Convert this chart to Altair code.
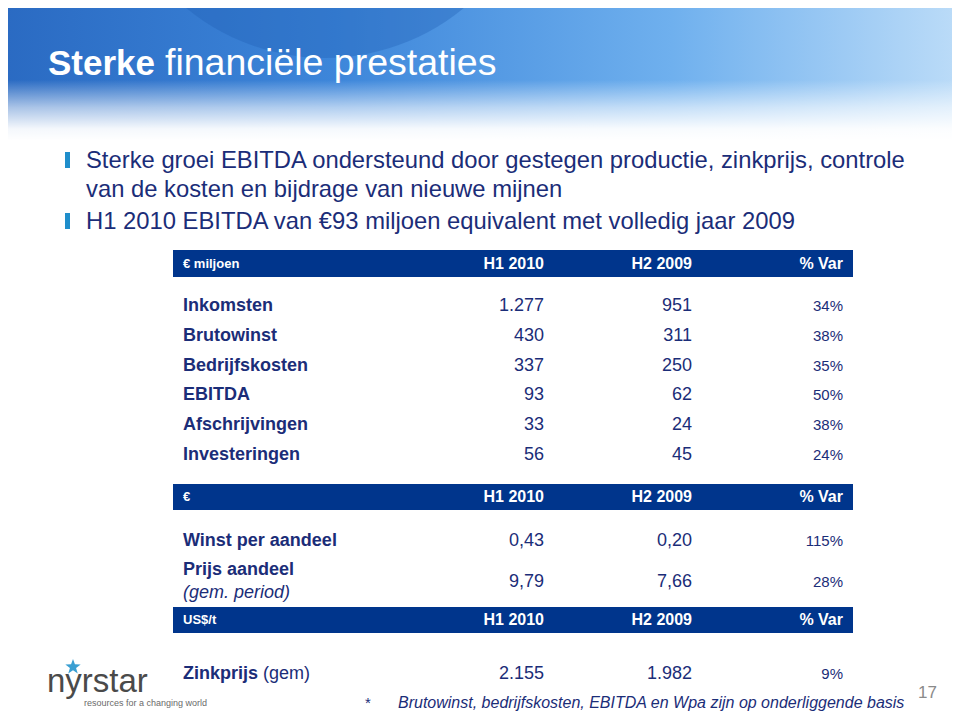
import altair as alt
import pandas as pd

FONT = "Liberation Sans"
NAVY = "#1b2d78"
BAR = "#00358c"

# ---------------- data ----------------
title_bold = "Sterke"
title_rest = "financiële prestaties"
bullets = [
    "Sterke groei EBITDA ondersteund door gestegen productie, zinkprijs, controle",
    "van de kosten en bijdrage van nieuwe mijnen",
    "H1 2010 EBITDA van €93 miljoen equivalent met volledig jaar 2009",
]
header_cols = ["H1 2010", "H2 2009", "% Var"]
units = ["€ miljoen", "€", "US$/t"]

labels_1 = ["Inkomsten", "Brutowinst", "Bedrijfskosten", "EBITDA", "Afschrijvingen", "Investeringen"]
h1_1 = ["1.277", "430", "337", "93", "33", "56"]
h2_1 = ["951", "311", "250", "62", "24", "45"]
var_1 = ["34%", "38%", "35%", "50%", "38%", "24%"]

labels_2 = ["Winst per aandeel", "Prijs aandeel"]
sub_2 = ["", "(gem. period)"]
h1_2 = ["0,43", "9,79"]
h2_2 = ["0,20", "7,66"]
var_2 = ["115%", "28%"]

label_3 = "Zinkprijs"
label_3_rest = "(gem)"
h1_3 = ["2.155"]
h2_3 = ["1.982"]
var_3 = ["9%"]

footnote = "Brutowinst, bedrijfskosten, EBITDA en Wpa zijn op onderliggende basis"
page_no = "17"
logo = "nyrstar"
logo_tag = "resources for a changing world"

# ---------------- layout ----------------
W, H = 944, 704
XS = alt.Scale(domain=[8, 8 + W], nice=False, zero=False)
YS = alt.Scale(domain=[8, 8 + H], nice=False, zero=False, reverse=True)
COLX = [544, 692, 843]
LX = 183


def enc_xy(ch):
    return ch.encode(
        x=alt.X("x:Q", scale=XS, axis=None),
        y=alt.Y("y:Q", scale=YS, axis=None),
    )


def text_layer(rows, **kw):
    df = pd.DataFrame(rows, columns=["x", "y", "t"])
    base = dict(font=FONT, baseline="middle")
    base.update(kw)
    return enc_xy(alt.Chart(df).mark_text(**base)).encode(text="t:N")


def rect_layer(rows, **kw):
    df = pd.DataFrame(rows, columns=["x", "x2", "y", "y2"])
    return alt.Chart(df).mark_rect(**kw).encode(
        x=alt.X("x:Q", scale=XS, axis=None), x2="x2",
        y=alt.Y("y:Q", scale=YS, axis=None), y2="y2",
    )


layers = []

# banner background
layers.append(rect_layer([(0, 960, 0, 140)], color=alt.Gradient(
    gradient="linear", x1=0, x2=1, y1=0, y2=0,
    stops=[alt.GradientStop(color="#2a6ac2", offset=0),
           alt.GradientStop(color="#3d86da", offset=0.35),
           alt.GradientStop(color="#6fb0ee", offset=0.7),
           alt.GradientStop(color="#bcdcf8", offset=1)])))
# darker circle in banner
circ = pd.DataFrame({"x": [325], "y": [-160]})
layers.append(enc_xy(alt.Chart(circ).mark_point(
    filled=True, shape="circle", size=190000, color="#1f5fb5", opacity=0.35)))
# fade to white
layers.append(rect_layer([(0, 960, 80, 141)], color=alt.Gradient(
    gradient="linear", x1=0, x2=0, y1=0, y2=1,
    stops=[alt.GradientStop(color="rgba(255,255,255,0)", offset=0),
           alt.GradientStop(color="rgba(255,255,255,0.6)", offset=0.45),
           alt.GradientStop(color="rgba(255,255,255,0.95)", offset=0.8),
           alt.GradientStop(color="#ffffff", offset=1)])))

# title
layers.append(text_layer([(48, 75, title_bold)], baseline="alphabetic", fontSize=35,
                         fontWeight="bold", color="white", align="left"))
layers.append(text_layer([(165, 75, title_rest)], baseline="alphabetic", fontSize=37.5,
                         color="white", align="left"))

# bullets
layers.append(rect_layer([(65, 70, 152, 168), (65, 70, 213, 229)], color="#1f8ecb"))
bl_y = [161, 190, 222]
layers.append(text_layer([(86, y, t) for y, t in zip(bl_y, bullets)], fontSize=23.8,
                         color=NAVY, align="left"))

# header bars
bars = [(250, 277), (484, 510), (607, 633)]
layers.append(rect_layer([(173, 853, a, b) for a, b in bars], color=BAR))
hdr_rows = []
for (a, b), u in zip(bars, units):
    cy = (a + b) / 2
    layers.append(text_layer([(LX, cy, u)], fontSize=13, fontWeight="bold",
                             color="white", align="left"))
    hdr_rows += [(cx, cy, h) for cx, h in zip(COLX, header_cols)]
layers.append(text_layer(hdr_rows, fontSize=16, fontWeight="bold", color="white", align="right"))

# table 1
ys1 = [306 + i * 29.8 for i in range(len(labels_1))]
layers.append(text_layer([(LX, y, t) for y, t in zip(ys1, labels_1)], fontSize=18,
                         fontWeight="bold", color=NAVY, align="left"))
vals = [(COLX[0], y, t) for y, t in zip(ys1, h1_1)] + [(COLX[1], y, t) for y, t in zip(ys1, h2_1)]
layers.append(text_layer(vals, fontSize=18, color=NAVY, align="right"))
layers.append(text_layer([(COLX[2], y, t) for y, t in zip(ys1, var_1)], fontSize=15,
                         color=NAVY, align="right"))

# table 2
lab_y2 = [541, 570]
val_y2 = [541, 582]
layers.append(text_layer([(LX, y, t) for y, t in zip(lab_y2, labels_2)], fontSize=18,
                         fontWeight="bold", color=NAVY, align="left"))
layers.append(text_layer([(LX, 593, s) for s in sub_2 if s], fontSize=18,
                         fontStyle="italic", color=NAVY, align="left"))
vals2 = [(COLX[0], y, t) for y, t in zip(val_y2, h1_2)] + [(COLX[1], y, t) for y, t in zip(val_y2, h2_2)]
layers.append(text_layer(vals2, fontSize=18, color=NAVY, align="right"))
layers.append(text_layer([(COLX[2], y, t) for y, t in zip(val_y2, var_2)], fontSize=15,
                         color=NAVY, align="right"))

# table 3
layers.append(text_layer([(LX, 674, label_3)], fontSize=18, fontWeight="bold",
                         color=NAVY, align="left"))
layers.append(text_layer([(263, 674, label_3_rest)], fontSize=18, color=NAVY, align="left"))
vals3 = [(COLX[0], 674, h1_3[0]), (COLX[1], 674, h2_3[0])]
layers.append(text_layer(vals3, fontSize=18, color=NAVY, align="right"))
layers.append(text_layer([(COLX[2], 674, var_3[0])], fontSize=15, color=NAVY, align="right"))

# footnote
layers.append(text_layer([(365, 703, "*")], fontSize=15, color=NAVY, align="left"))
layers.append(text_layer([(398, 703, footnote)], fontSize=16, fontStyle="italic",
                         color=NAVY, align="left"))
layers.append(text_layer([(918, 693, page_no)], fontSize=17, color="#8a8a8a", align="left"))

# logo
layers.append(text_layer([(47, 692, logo)], baseline="alphabetic", fontSize=33,
                         color="#4a4a4a", align="left"))
star = pd.DataFrame({"x": [73], "y": [667]})
layers.append(enc_xy(alt.Chart(star).mark_point(
    filled=True, size=260, color="#3a9fd2", opacity=1,
    shape="M0,-1L0.24,-0.33L0.95,-0.31L0.38,0.12L0.59,0.81L0,0.4L-0.59,0.81L-0.38,0.12L-0.95,-0.31L-0.24,-0.33Z")))
layers.append(text_layer([(84, 703, logo_tag)], fontSize=9, color="#6a6a6a", align="left"))

chart = alt.layer(*layers).properties(
    width=W, height=H, padding=0, autosize=alt.AutoSizeParams(type="none"),
    background="white",
).configure_view(stroke=None)

chart.save("out.html", embed_options={"renderer": "svg", "actions": False})
